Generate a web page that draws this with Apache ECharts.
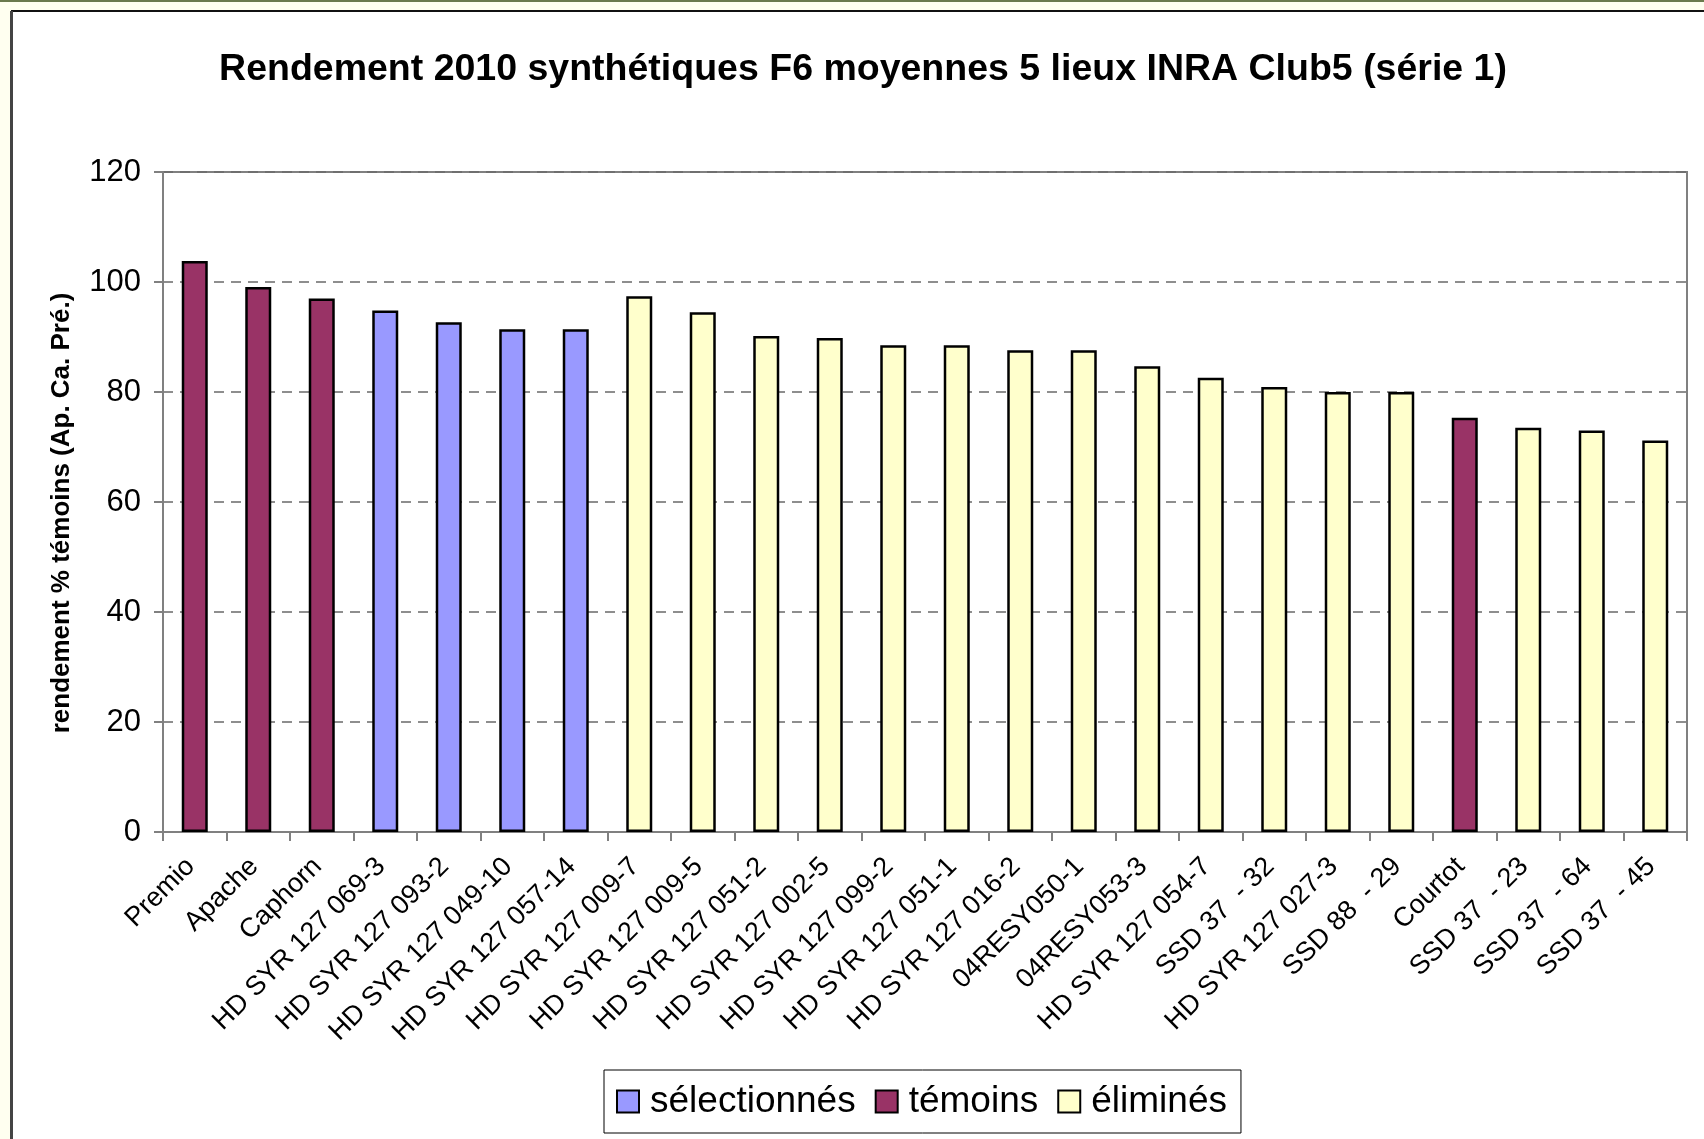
<!DOCTYPE html>
<html>
<head>
<meta charset="utf-8">
<script src="https://cdn.jsdelivr.net/npm/echarts@6/dist/echarts.min.js"></script>
<style>
  html, body { margin: 0; padding: 0; background: #ffffff; }
  #chart { width: 1704px; height: 1139px; }
</style>
</head>
<body>
<div id="chart"></div>
<script>
// Varieties, in plotted order
const categories = [
  'Premio', 'Apache', 'Caphorn',
  'HD SYR 127 069-3', 'HD SYR 127 093-2', 'HD SYR 127 049-10', 'HD SYR 127 057-14',
  'HD SYR 127 009-7', 'HD SYR 127 009-5', 'HD SYR 127 051-2', 'HD SYR 127 002-5',
  'HD SYR 127 099-2', 'HD SYR 127 051-1', 'HD SYR 127 016-2',
  '04RESY050-1', '04RESY053-3', 'HD SYR 127 054-7', 'SSD 37  - 32',
  'HD SYR 127 027-3', 'SSD 88  - 29', 'Courtot',
  'SSD 37  - 23', 'SSD 37  - 64', 'SSD 37  - 45'
];

// Yield as % of the checks (Ap. Ca. Pré.)
const values = [
  103.8, 99.1, 97.0,
  94.8, 92.7, 91.4, 91.4,
  97.4, 94.5, 90.2, 89.8,
  88.5, 88.5, 87.6,
  87.6, 84.7, 82.6, 80.9,
  80.0, 80.0, 75.3,
  73.5, 73.0, 71.2
];

// Group of each variety: S = sélectionnés, T = témoins, E = éliminés
const groups = [
  'T', 'T', 'T',
  'S', 'S', 'S', 'S',
  'E', 'E', 'E', 'E',
  'E', 'E', 'E',
  'E', 'E', 'E', 'E',
  'E', 'E', 'T',
  'E', 'E', 'E'
];

const seriesNames = ['sélectionnés', 'témoins', 'éliminés'];
const seriesKeys = ['S', 'T', 'E'];
const seriesColors = ['#9999FF', '#993366', '#FFFFCC'];

const yTicks = { min: 0, max: 120, interval: 20 };

const FONT = '"Liberation Sans", Arial, sans-serif';

const chart = echarts.init(document.getElementById('chart'), null, { renderer: 'canvas' });

const series = seriesKeys.map((key, k) => ({
  name: seriesNames[k],
  type: 'bar',
  barWidth: 26,
  barGap: '-100%',
  data: values.map((v, i) => (groups[i] === key ? v : null)),
  itemStyle: { color: seriesColors[k], borderColor: '#000000', borderWidth: 2.5 },
  emphasis: { disabled: true },
  z: 3
}));

chart.setOption({
  animation: false,
  backgroundColor: '#ffffff',
  graphic: [
    // outer page strip and frame
    { type: 'rect', shape: { x: 0, y: 0, width: 1704, height: 11 }, style: { fill: '#FFFFF0' }, z: -10 },
    { type: 'rect', shape: { x: 0, y: 0, width: 11, height: 1139 }, style: { fill: '#FFFFF0' }, z: -10 },
    { type: 'rect', shape: { x: 0, y: 0, width: 1704, height: 2 }, style: { fill: '#6B7A4E' }, z: -9 },
    { type: 'line', shape: { x1: 11, y1: 11, x2: 1704, y2: 11 }, style: { stroke: '#111111', lineWidth: 2 }, z: -8 },
    { type: 'line', shape: { x1: 11.5, y1: 11, x2: 11.5, y2: 1139 }, style: { stroke: '#444444', lineWidth: 3 }, z: -8 },
    {
      type: 'text', x: 62, y: 513, rotation: Math.PI / 2,
      style: {
        text: 'rendement % témoins (Ap. Ca. Pré.)',
        font: 'bold 26px ' + FONT, fill: '#000000',
        align: 'center', verticalAlign: 'middle'
      }
    }
  ],
  title: {
    text: 'Rendement 2010 synthétiques F6 moyennes 5 lieux INRA Club5 (série 1)',
    left: 858,
    top: 46,
    textAlign: 'center',
    textStyle: { fontFamily: FONT, fontSize: 37.5, fontWeight: 'bold', color: '#000000' }
  },
  legend: {
    data: seriesNames.map(n => ({ name: n, icon: 'rect' })),
    left: 604,
    top: 1070,
    orient: 'horizontal',
    itemWidth: 22,
    itemHeight: 22,
    itemGap: 19,
    padding: [13, 14, 13, 12],
    borderColor: '#000000',
    borderWidth: 1,
    backgroundColor: '#ffffff',
    textStyle: { fontFamily: FONT, fontSize: 37, color: '#000000', padding: [0, 0, 0, 6] },
    selectedMode: false
  },
  grid: {
    left: 163, right: 17, top: 172, bottom: 307,
    show: true, borderColor: '#808080', borderWidth: 2, backgroundColor: '#ffffff'
  },
  xAxis: {
    type: 'category',
    data: categories,
    boundaryGap: true,
    axisLine: { lineStyle: { color: '#808080', width: 2 } },
    axisTick: { show: true, inside: false, length: 9, alignWithLabel: false, lineStyle: { color: '#808080', width: 2 } },
    axisLabel: {
      interval: 0, rotate: 45, margin: 26, padding: [0, 6, 0, 0],
      fontFamily: FONT, fontSize: 27, color: '#000000'
    },
    splitLine: { show: false }
  },
  yAxis: {
    type: 'value',
    min: yTicks.min, max: yTicks.max, interval: yTicks.interval,
    axisLine: { show: true, lineStyle: { color: '#808080', width: 2 } },
    axisTick: { show: true, inside: false, length: 9, lineStyle: { color: '#808080', width: 2 } },
    axisLabel: { margin: 22, fontFamily: FONT, fontSize: 31, color: '#000000' },
    splitLine: { show: true, lineStyle: { color: '#6a6a6a', width: 1.5, type: [10, 7] } }
  },
  series: series
});
</script>
</body>
</html>
